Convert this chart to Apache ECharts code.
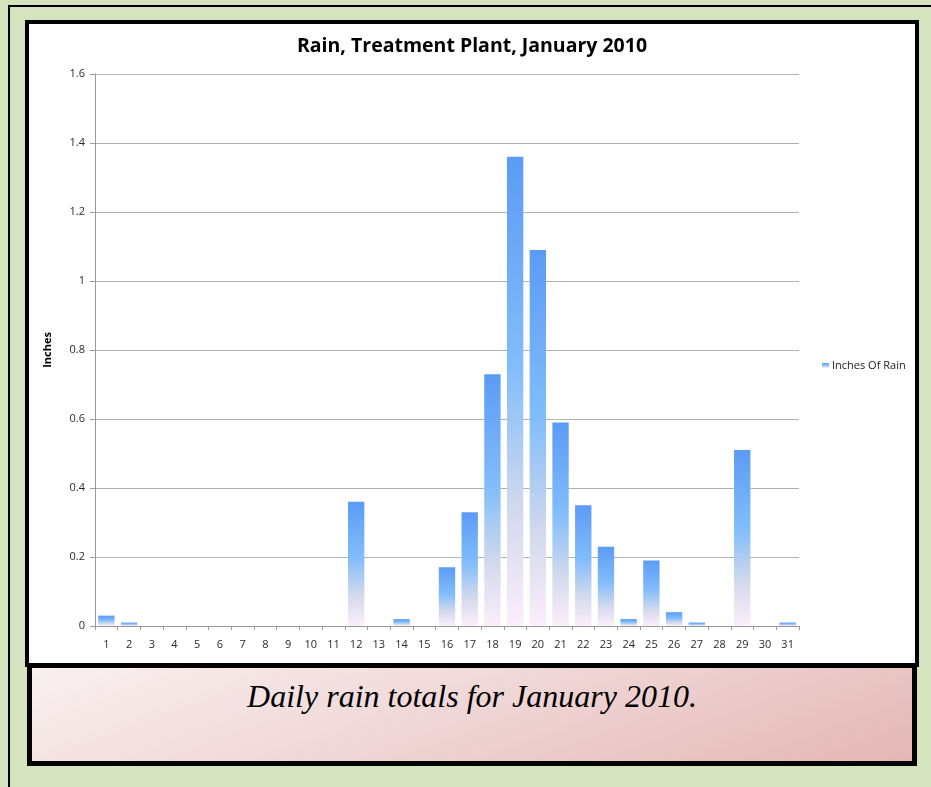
<!DOCTYPE html>
<html>
<head>
<meta charset="utf-8">
<script src="https://cdn.jsdelivr.net/npm/echarts@6/dist/echarts.min.js"></script>
<style>
  html, body { margin: 0; padding: 0; }
  body { width: 931px; height: 787px; background: #d6e3bf; position: relative; overflow: hidden; }
  .outer { position: absolute; left: 8px; top: 5px; width: 940px; height: 800px; border: 2px solid #000; box-sizing: border-box; }
  .chartbox { position: absolute; left: 25px; top: 20px; width: 894px; height: 647px; border: 4px solid #000; box-sizing: border-box; background: #fff; }
  #chart { position: absolute; left: 0; top: 0; width: 886px; height: 639px; }
  .caption { position: absolute; left: 27px; top: 663px; width: 890px; height: 103px; border: 5px solid #000; box-sizing: border-box;
    background: linear-gradient(160deg, #faf0f0 0%, #efd5d5 50%, #e4b7b5 100%);
    display: flex; align-items: flex-start; justify-content: center; }
  .caption span { font-family: "Liberation Serif", "DejaVu Serif", serif; font-style: italic; font-size: 32px; color: #000; margin-top: 10px; }
</style>
</head>
<body>
<div class="outer"></div>
<div class="chartbox"><div id="chart"></div></div>
<div class="caption"><span>Daily rain totals for January 2010.</span></div>
<script>
const days = ['1','2','3','4','5','6','7','8','9','10','11','12','13','14','15','16',
  '17','18','19','20','21','22','23','24','25','26','27','28','29','30','31']
const rain = [0.03, 0.01, 0, 0, 0, 0, 0, 0, 0, 0, 0, 0.36, 0, 0.02, 0, 0.17,
  0.33, 0.73, 1.36, 1.09, 0.59, 0.35, 0.23, 0.02, 0.19, 0.04, 0.01, 0, 0.51, 0, 0.01]

const barFill = new echarts.graphic.LinearGradient(0, 0, 0, 1, [
  { offset: 0, color: '#5b9bf5' },
  { offset: 0.45, color: '#82bdfb' },
  { offset: 0.75, color: '#d2d9ec' },
  { offset: 1, color: '#fdeefa' }
])

const c = echarts.init(document.getElementById('chart'))
c.setOption({
  animation: false,
  textStyle: { fontFamily: 'Open Sans, sans-serif' },
  title: {
    text: 'Rain, Treatment Plant, January 2010',
    left: 438, top: 7, textAlign: 'center',
    textStyle: { fontSize: 19.5, fontWeight: 'bold', color: '#000', fontFamily: 'Open Sans, sans-serif' }
  },
  legend: {
    left: 788, top: 331,
    itemWidth: 7, itemHeight: 5, itemGap: 4,
    icon: 'rect',
    textStyle: { fontSize: 11, color: '#222', padding: [0, 0, 0, -2] },
    data: ['Inches Of Rain']
  },
  grid: { left: 66, right: 116, top: 50, bottom: 37 },
  xAxis: {
    type: 'category',
    data: days,
    axisLine: { lineStyle: { color: '#9a9a9a' } },
    axisTick: { show: true, length: 4, lineStyle: { color: '#9a9a9a' } },
    axisLabel: { fontSize: 11, color: '#2a2a2a', margin: 13, interval: 0 }
  },
  yAxis: {
    type: 'value',
    min: 0, max: 1.6, interval: 0.2,
    name: 'Inches',
    nameLocation: 'middle',
    nameGap: 42,
    nameTextStyle: { fontSize: 11, fontWeight: 'bold', color: '#000' },
    axisLine: { show: true, lineStyle: { color: '#9a9a9a' } },
    axisTick: { show: true, length: 5, lineStyle: { color: '#9a9a9a' } },
    axisLabel: { fontSize: 11, color: '#2a2a2a', margin: 10, formatter: v => String(Math.round(v * 10) / 10) },
    splitLine: { lineStyle: { color: '#b2b2b2' } }
  },
  series: [{
    name: 'Inches Of Rain',
    type: 'bar',
    data: rain,
    barCategoryGap: '28%',
    itemStyle: { color: barFill }
  }]
})
</script>
</body>
</html>
